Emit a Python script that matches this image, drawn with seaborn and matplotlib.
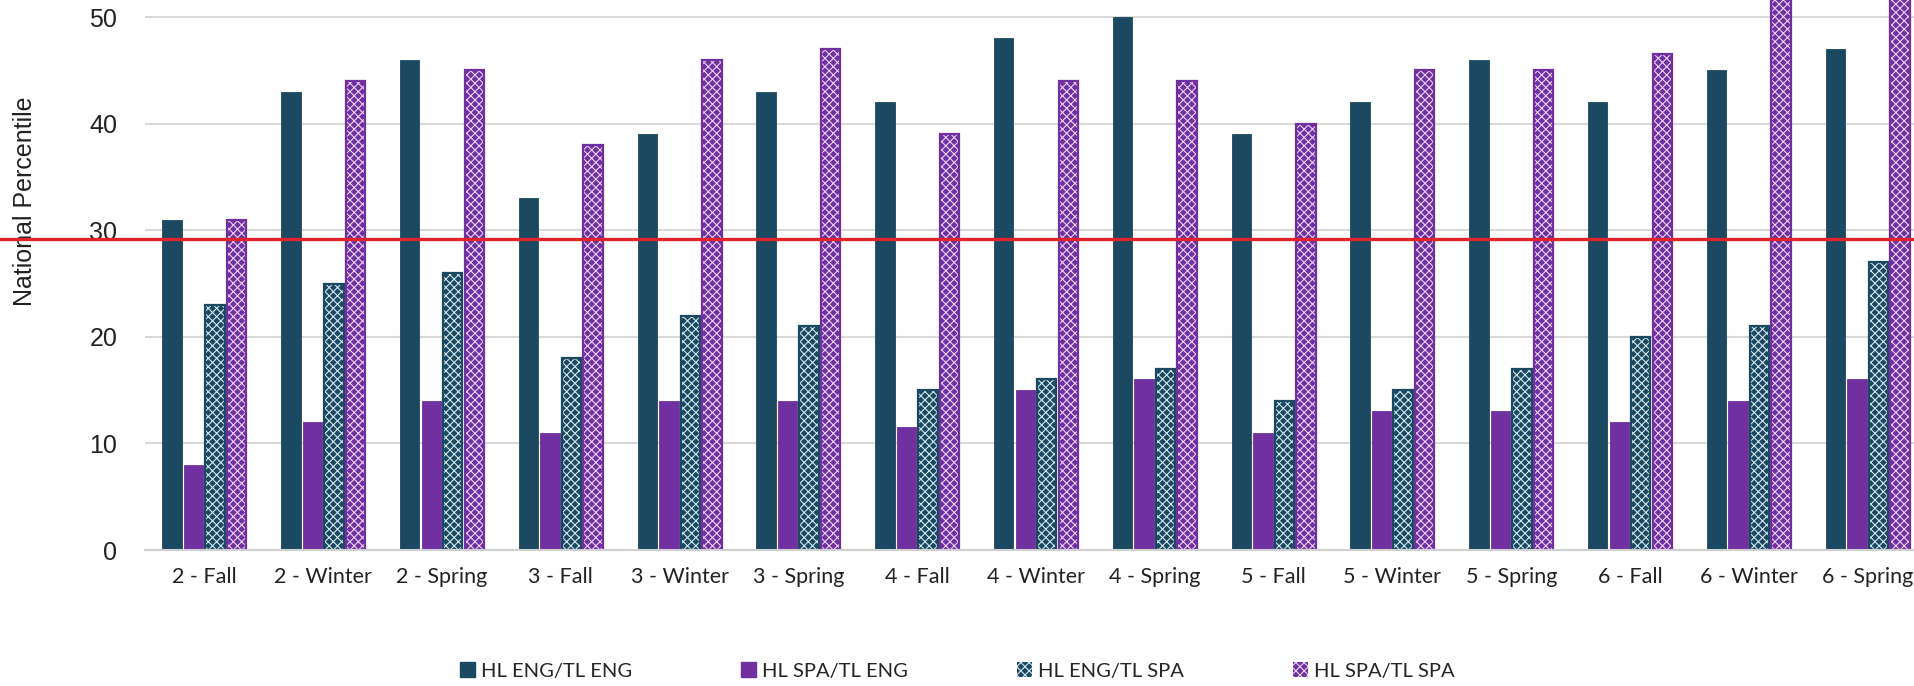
import matplotlib
matplotlib.use("Agg")
import matplotlib.pyplot as plt
from matplotlib.patches import Patch, Rectangle
from matplotlib.lines import Line2D
import matplotlib.transforms as mtransforms
import seaborn as sns
import pandas as pd

# Assessment windows (grade - season)
terms = ["2 - Fall", "2 - Winter", "2 - Spring",
         "3 - Fall", "3 - Winter", "3 - Spring",
         "4 - Fall", "4 - Winter", "4 - Spring",
         "5 - Fall", "5 - Winter", "5 - Spring",
         "6 - Fall", "6 - Winter", "6 - Spring"]

# National percentile by home language / test language group
hl_eng_tl_eng = [31, 43, 46, 33, 39, 43, 42, 48, 50, 39, 42, 46, 42, 45, 47]
hl_spa_tl_eng = [8, 12, 14, 11, 14, 14, 11.5, 15, 16, 11, 13, 13, 12, 14, 16]
hl_eng_tl_spa = [23, 25, 26, 18, 22, 21, 15, 16, 17, 14, 15, 17, 20, 21, 27]
hl_spa_tl_spa = [31, 44, 45, 38, 46, 47, 39, 44, 44, 40, 45, 45, 46.5, 55, 57]

groups = ["HL ENG/TL ENG", "HL SPA/TL ENG", "HL ENG/TL SPA", "HL SPA/TL SPA"]
reference_line = 29.2
y_ticks = [0, 10, 20, 30, 40, 50]

TEAL = "#1B4962"
PURPLE = "#7030A0"
colors = [TEAL, PURPLE, TEAL, PURPLE]
hatch_colors = [None, None, "#D3E6EC", "#E9D3F2"]

df = pd.DataFrame({
    "term": terms * 4,
    "value": hl_eng_tl_eng + hl_spa_tl_eng + hl_eng_tl_spa + hl_spa_tl_spa,
    "group": sum([[g] * len(terms) for g in groups], []),
})

sns.set_theme(style="white")
plt.rcParams["font.family"] = ["Liberation Sans", "DejaVu Sans"]
plt.rcParams["hatch.linewidth"] = 0.8

fig = plt.figure(figsize=(19.15, 6.86), dpi=100)
ax = fig.add_axes([145 / 1915, 136 / 686, 1782 / 1915, 550 / 686])

sns.barplot(data=df, x="term", y="value", hue="group", order=terms,
            hue_order=groups, palette=colors, saturation=1,
            width=0.724, gap=0.1, legend=False, ax=ax)

# Patterned series: light cross-hatch over the fill, with a solid outline
for cont, face, hc in zip(ax.containers, colors, hatch_colors):
    for bar in cont:
        if hc is None:
            bar.set_edgecolor(face)
            bar.set_linewidth(0.6)
        else:
            bar.set_hatch("xxxx")
            bar.set_edgecolor(hc)
            bar.set_linewidth(0)
            ax.add_patch(Rectangle(bar.get_xy(), bar.get_width(), bar.get_height(),
                                   fill=False, edgecolor=face, linewidth=1.6,
                                   zorder=bar.get_zorder() + 0.1))

ax.set_xlim(-0.5, len(terms) - 0.5)
ax.set_ylim(0, 51.6)
ax.set_yticks(y_ticks)
ax.yaxis.grid(True, color="#D9D9D9", linewidth=1.5)
ax.set_axisbelow(True)
for side in ["top", "right", "left"]:
    ax.spines[side].set_visible(False)
ax.spines["bottom"].set_color("#D0D0D0")
ax.spines["bottom"].set_linewidth(1.5)
ax.tick_params(axis="both", length=0)
ax.tick_params(axis="y", labelsize=18, pad=20, labelcolor="#222222")
ax.tick_params(axis="x", labelsize=15.5, pad=12, labelcolor="#222222")
for lbl in ax.get_xticklabels():
    lbl.set_family(["Lato", "DejaVu Sans"])

ax.set_xlabel("")
ax.set_ylabel("National Percentile", fontsize=18, color="#222222")
ax.yaxis.set_label_coords(-0.0605, 0.635)

# Benchmark line running across the full width
trans = mtransforms.blended_transform_factory(fig.transFigure, ax.transData)
fig.add_artist(Line2D([0, 1], [reference_line, reference_line], transform=trans,
                      color="#E0242B", linewidth=2.4, zorder=10))

handles = []
for face, hc, g in zip(colors, hatch_colors, groups):
    if hc is None:
        handles.append(Patch(facecolor=face, edgecolor=face, label=g))
    else:
        handles.append(Patch(facecolor=face, edgecolor=hc, hatch="xxxx",
                             linewidth=0, label=g))
fig.legend(handles=handles, loc="center", bbox_to_anchor=(0.5, 0.022), ncol=4,
           frameon=False, handlelength=0.75, handleheight=0.75,
           handletextpad=0.3, columnspacing=5.4,
           prop={"family": ["Lato", "DejaVu Sans"], "size": 14.5})

fig.savefig("out.png", dpi=100)
